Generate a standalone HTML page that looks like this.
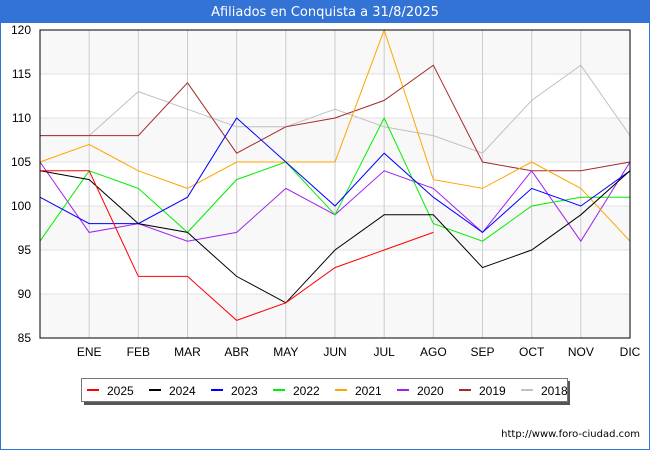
<!DOCTYPE html>
<html><head><meta charset="utf-8"><style>
body{margin:0;width:650px;height:450px;overflow:hidden;background:#fff;font-family:"Liberation Sans","DejaVu Sans",sans-serif}
</style></head><body>
<svg width="650" height="450" xmlns="http://www.w3.org/2000/svg">
<rect x="0" y="0" width="650" height="450" fill="#fff" stroke="#3473d6" stroke-width="2"/>
<rect x="0" y="0" width="650" height="23" fill="#3473d6"/>
<text x="325" y="16" text-anchor="middle" fill="#fff" font-size="13" font-family="DejaVu Sans, sans-serif">Afiliados en Conquista a 31/8/2025</text>
<g id="bands"></g><g id="grid"></g><g id="series"></g>
<rect x="40" y="30" width="590" height="308" fill="none" stroke="#000" stroke-width="1"/>
<g id="yticks"></g><g id="xticks"></g>
<rect x="84" y="381" width="486" height="24" fill="#555"/>
<rect x="81.5" y="378.5" width="486" height="23" fill="#fff" stroke="#777"/>
<g id="legend"></g>
<text x="640" y="437" text-anchor="end" font-size="10" font-family="DejaVu Sans, sans-serif" fill="#000">http://www.foro-ciudad.com</text>
</svg>
<script>
const months=["","ENE","FEB","MAR","ABR","MAY","JUN","JUL","AGO","SEP","OCT","NOV","DIC"];
const yTicks=[85,90,95,100,105,110,115,120];
const years=["2025","2024","2023","2022","2021","2020","2019","2018"];
const colors=["#ff0000","#000000","#0000ff","#00ee00","#ffa500","#a020f0","#a52a2a","#c0c0c0"];
const s2025=[104,104,92,92,87,89,93,95,97];
const s2024=[104,103,98,97,92,89,95,99,99,93,95,99,104];
const s2023=[101,98,98,101,110,105,100,106,101,97,102,100,104];
const s2022=[96,104,102,97,103,105,99,110,98,96,100,101,101];
const s2021=[105,107,104,102,105,105,105,120,103,102,105,102,96];
const s2020=[105,97,98,96,97,102,99,104,102,97,104,96,105];
const s2019=[108,108,108,114,106,109,110,112,116,105,104,104,105];
const s2018=[108,108,113,111,109,109,111,109,108,106,112,116,108];
const series=[s2025,s2024,s2023,s2022,s2021,s2020,s2019,s2018];
const NS="http://www.w3.org/2000/svg";
const L=40,R=630,T=30,B=338,ymin=85,ymax=120;
const xs=i=>L+i*(R-L)/(months.length-1);
const ys=v=>B-(v-ymin)/(ymax-ymin)*(B-T);
function mk(t,a,p){const e=document.createElementNS(NS,t);for(const k in a)e.setAttribute(k,a[k]);document.getElementById(p).appendChild(e);return e;}
for(let i=0;i<yTicks.length-1;i++){
 const e=mk("rect",{x:L,y:ys(yTicks[i+1]),width:R-L,height:ys(yTicks[i])-ys(yTicks[i+1]),fill:(i%2==0)?"#f8f8f8":"#ffffff"},"bands");
 
 
}
yTicks.forEach(v=>{
 const g=mk("line",{x1:L,x2:R,y1:ys(v),y2:ys(v),stroke:"#e0e0e0"},"grid");
 
 
 const t=mk("text",{x:L-9,y:ys(v)+4,"text-anchor":"end","font-size":"12",fill:"#000"},"yticks");
 t.textContent=v;
 
 
});
months.forEach((m,i)=>{
 const g=mk("line",{x1:xs(i),x2:xs(i),y1:T,y2:B,stroke:"#cccccc"},"grid");
 
 
 if(m){const t=mk("text",{x:xs(i),y:356,"text-anchor":"middle","font-size":"12",fill:"#000"},"xticks");
 t.textContent=m;
 
 }
});
for(let k=series.length-1;k>=0;k--){
 const p=mk("polyline",{points:series[k].map((v,i)=>xs(i)+","+ys(v)).join(" "),fill:"none",stroke:colors[k],"stroke-width":"1"},"series");
 
 
}
years.forEach((y,k)=>{
 const x0=87+k*62;
 const sw=mk("rect",{x:x0,y:389,width:12,height:2,fill:colors[k]},"legend");
 
 
 const t=mk("text",{x:x0+20,y:395,"font-size":"12",fill:"#000"},"legend");
 t.textContent=y;
 
 
});
</script>
</body></html>
